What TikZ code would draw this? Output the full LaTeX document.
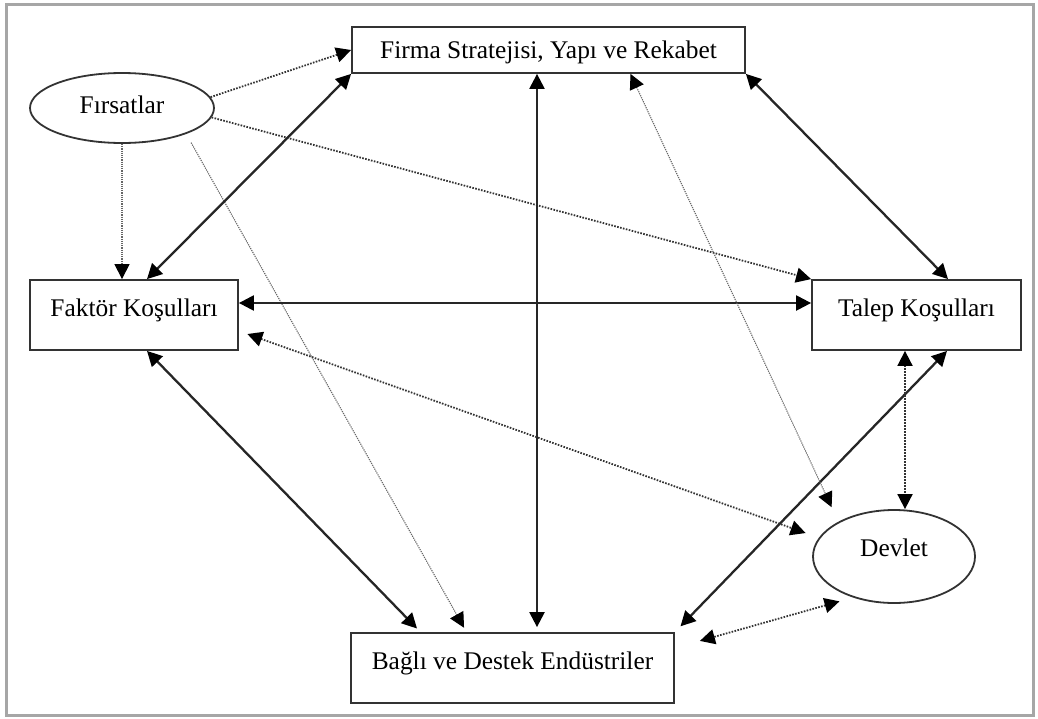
\documentclass[tikz,border=0pt]{standalone}
\usepackage{fontspec}
\setmainfont{Liberation Serif}
\usetikzlibrary{arrows.meta,shapes.geometric}

\begin{document}
\begin{tikzpicture}[x=0.5pt,y=-0.5pt,
  every node/.style={font=\fontsize{12.7}{15}\selectfont},
  >={Triangle[length=7.5pt,width=7.5pt,black]},
  kutu/.style={draw=black!80,line width=0.9pt,rectangle,text height=0.7em,text depth=0.59em},
  elips/.style={draw=black!80,line width=0.9pt,ellipse,inner sep=0pt,text height=0.7em},
  duz/.style={line width=1.15pt,black!85},
  noktali/.style={line width=0.9pt,black!80,dash pattern=on 0.8pt off 0.7pt},
  ince/.style={line width=0.55pt,black!60,dash pattern=on 0.6pt off 0.5pt}]
\useasboundingbox (0,0) rectangle (1038,718);
\draw[gray!70,line width=1.5pt] (6,4) rectangle (1033,715);

% kutular ve elipsler
\node[kutu,minimum width=196.5pt,minimum height=23pt,text height=0.8em,text depth=0pt] (firma) at (548.5,50) {Firma Stratejisi, Yapı ve Rekabet};
\node[elips,minimum width=92pt,minimum height=35pt,text depth=0.16em] (firsat) at (122,108) {Fırsatlar};
\node[kutu,minimum width=104pt,minimum height=35pt] (faktor) at (134,315) {Faktör Koşulları};
\node[kutu,minimum width=104.5pt,minimum height=35pt] (talep) at (916.5,315) {Talep Koşulları};
\node[elips,minimum width=81pt,minimum height=46.5pt,text depth=0.7em] (devlet) at (894,556.5) {Devlet};
\node[kutu,minimum width=161.5pt,minimum height=35pt] (bagli) at (512.5,668) {Bağlı ve Destek Endüstriler};

% Fırsatlar
\draw[noktali,->] (firsat.7) -- (firma.west);
\draw[ince,->] (firsat.south) -- (firsat.south |- faktor.north);
\draw[noktali,->] (firsat.-6) -- (talep.north west);
\draw[ince,->,shorten <=5pt,shorten >=2.5pt] (firsat.-22) -- ([xshift=-23pt]bagli.north);

% elmas
\draw[duz,<->] (firma.south west) -- ([xshift=6.5pt]faktor.north);
\draw[duz,<->] (firma.south east) -- ([xshift=15.75pt]talep.north);
\draw[duz,<->] ([yshift=6pt]faktor.east) -- ([yshift=6pt]talep.west);
\draw[duz,<->,shorten >=2.5pt] ([xshift=6.5pt]faktor.south) -- ([xshift=-46pt]bagli.north);
\draw[duz,<->,shorten >=4pt] ([xshift=15.25pt]talep.south) -- (bagli.north east);
\coordinate (dikey) at ([xshift=-5.75pt]firma.south);
\draw[duz,<->,shorten >=2.5pt] (dikey) -- (dikey |- bagli.north);

% Devlet
\draw[ince,<->,shorten >=8pt] ([xshift=41pt]firma.south) -- (devlet.148);
\draw[noktali,<->,shorten <=4.5pt,shorten >=7pt] ([yshift=-8pt]faktor.east) -- (devlet.166);
\coordinate (talepalt) at ([xshift=-5.75pt]talep.south);
\draw[noktali,<->] (talepalt) -- (talepalt |- devlet.north);
\draw[noktali,<->,shorten <=7pt,shorten >=13pt] (devlet.225) -- ([yshift=10pt]bagli.east);
\end{tikzpicture}
\end{document}
